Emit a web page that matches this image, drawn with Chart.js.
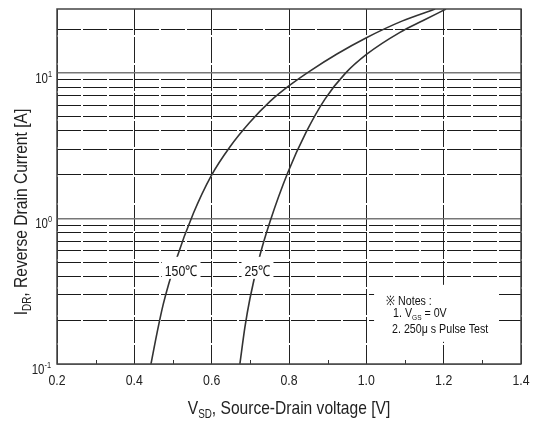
<!DOCTYPE html>
<html>
<head>
<meta charset="utf-8">
<script src="https://cdn.jsdelivr.net/npm/chart.js@4/dist/chart.umd.min.js"></script>
<style>
  html, body { margin: 0; padding: 0; background: #fff; }
  #wrap { width: 535px; height: 421px; }
</style>
</head>
<body>
<div id="wrap"><canvas id="myChart" width="535" height="421"></canvas></div>
<script>
// axis ticks / grid
const X_TICKS = [0.2, 0.4, 0.6, 0.8, 1.0, 1.2, 1.4];
const X_MINOR = [0.3, 0.5, 0.7, 0.9, 1.1, 1.3];
const Y_GRID = [0.1, 0.2, 0.3, 0.4, 0.5, 0.6, 0.7, 0.8, 0.9,
                1, 2, 3, 4, 5, 6, 7, 8, 9, 10, 20];
const Y_LABEL_VALUES = [0.1, 1, 10];
const Y_LABEL_EXP = ['-1', '0', '1'];

// curves (V_SD in V, I_DR in A)
const V_150 = [0.443, 0.459, 0.475, 0.508, 0.553, 0.598, 0.647, 0.697, 0.751, 0.803, 0.854, 0.924, 0.999, 1.092, 1.178];
const I_150 = [0.1,   0.165, 0.259, 0.519, 1.09,  1.95,  3.10,  4.53,  6.38,  8.27,  10.3,  13.5,  17.4,  22.7,  27.5];
const V_25 = [0.673, 0.686, 0.699, 0.725, 0.751, 0.797, 0.844, 0.893, 0.945, 1.002, 1.087, 1.147, 1.206];
const I_25 = [0.1,   0.179, 0.282, 0.561, 0.954, 2.07,  3.90,  6.61,  9.89,  13.5,  19.0,  22.9,  27.5];

const CURVE_LABELS = ['150℃', '25℃'];
const NOTES = ['※ Notes :', '1. V', 'GS', ' = 0V', '2. 250μ s Pulse Test'];

const FONT = '"Liberation Sans", Arial, sans-serif';
const SQUEEZE = 0.82;   // the original lettering is a narrow face

function toPoints(xs, ys) {
    return xs.map((v, i) => ({ x: v, y: ys[i] }));
}

// draw a run of [text, size, dy] pieces starting at x, horizontally squeezed
function drawRuns(ctx, x, y, runs) {
    let cx = x;
    runs.forEach(r => {
        ctx.font = r[1] + 'px ' + FONT;
        ctx.save();
        ctx.translate(cx, y + r[2]);
        ctx.scale(SQUEEZE, 1);
        ctx.fillText(r[0], 0, 0);
        ctx.restore();
        cx += ctx.measureText(r[0]).width * SQUEEZE;
    });
    return cx - x;
}
function runsWidth(ctx, runs) {
    let w = 0;
    runs.forEach(r => {
        ctx.font = r[1] + 'px ' + FONT;
        w += ctx.measureText(r[0]).width * SQUEEZE;
    });
    return w;
}

const decor = {
    id: 'decor',
    afterDatasetsDraw(chart) {
        const ctx = chart.ctx;
        const xs = chart.scales.x, ys = chart.scales.y;
        const a = chart.chartArea;
        ctx.save();

        // minor ticks on bottom axis
        ctx.strokeStyle = '#333';
        ctx.lineWidth = 1;
        X_MINOR.forEach(v => {
            const px = Math.round(xs.getPixelForValue(v)) + 0.5;
            ctx.beginPath();
            ctx.moveTo(px, a.bottom);
            ctx.lineTo(px, a.bottom - 4);
            ctx.stroke();
        });

        // curve labels on white boxes
        ctx.textBaseline = 'middle';
        ctx.textAlign = 'left';
        const labelPos = [[0.521, 0.43], [0.7185, 0.43]];
        CURVE_LABELS.forEach((t, i) => {
            const px = xs.getPixelForValue(labelPos[i][0]);
            const py = ys.getPixelForValue(labelPos[i][1]);
            const w = runsWidth(ctx, [[t, 15, 0]]);
            ctx.fillStyle = '#fff';
            ctx.fillRect(px - w / 2 - 3, py - 15, w + 6, 22);
            ctx.fillStyle = '#111';
            drawRuns(ctx, px - w / 2, py, [[t, 15, 0]]);
        });

        // notes box
        const nx = xs.getPixelForValue(1.02), ny = ys.getPixelForValue(0.35);
        ctx.fillStyle = '#fff';
        ctx.fillRect(nx, ny, 124, 57);
        ctx.fillStyle = '#111';
        ctx.textBaseline = 'alphabetic';
        drawRuns(ctx, nx + 12, ny + 20, [[NOTES[0], 13, 0]]);
        drawRuns(ctx, nx + 19, ny + 32, [[NOTES[1], 13, 0], [NOTES[2], 8, 3], [NOTES[3], 13, 0]]);
        drawRuns(ctx, nx + 18, ny + 48, [[NOTES[4], 13, 0]]);

        // frame
        ctx.strokeStyle = '#444';
        ctx.lineWidth = 1.5;
        ctx.strokeRect(a.left, a.top, a.right - a.left, a.bottom - a.top);
        ctx.restore();
    },
    afterDraw(chart) {
        const ctx = chart.ctx;
        const xs = chart.scales.x, ys = chart.scales.y;
        const a = chart.chartArea;
        ctx.save();
        ctx.fillStyle = '#222';
        ctx.textAlign = 'left';

        // x tick labels
        ctx.textBaseline = 'middle';
        X_TICKS.forEach(v => {
            const t = v.toFixed(1);
            const w = runsWidth(ctx, [[t, 15, 0]]);
            drawRuns(ctx, xs.getPixelForValue(v) - w / 2, a.bottom + 17, [[t, 15, 0]]);
        });

        // y tick labels 10^n
        ctx.textBaseline = 'alphabetic';
        Y_LABEL_VALUES.forEach((v, i) => {
            const py = ys.getPixelForValue(v);
            const exp = Y_LABEL_EXP[i];
            const w = runsWidth(ctx, [['10', 14, 0]]);
            const we = runsWidth(ctx, [[exp, 9, 0]]);
            const x0 = a.left - 9 - w - (exp.length > 1 ? we - 3 : 0);
            drawRuns(ctx, x0, py + 10, [['10', 14, 0], [exp, 9, -6]]);
        });

        // x title
        const xRuns = [['V', 19, 0], ['SD', 12, 4], [', Source-Drain voltage [V]', 19, 0]];
        const xw = runsWidth(ctx, xRuns);
        drawRuns(ctx, 289 - xw / 2, 414, xRuns);

        // y title
        const yRuns = [['I', 19, 0], ['DR', 12, 4], [', Reverse Drain Current [A]', 19, 0]];
        const yw = runsWidth(ctx, yRuns);
        ctx.translate(27, 212);
        ctx.rotate(-Math.PI / 2);
        drawRuns(ctx, -yw / 2, 0, yRuns);
        ctx.restore();
    }
};

const ctx = document.getElementById('myChart').getContext('2d');

const myChart = new Chart(ctx, {
    type: 'line',
    data: {
        datasets: [
            {
                label: '150℃',
                data: toPoints(V_150, I_150),
                borderColor: '#333',
                borderWidth: 1.6,
                pointRadius: 0,
                cubicInterpolationMode: 'monotone',
                fill: false
            },
            {
                label: '25℃',
                data: toPoints(V_25, I_25),
                borderColor: '#333',
                borderWidth: 1.6,
                pointRadius: 0,
                cubicInterpolationMode: 'monotone',
                fill: false
            }
        ]
    },
    options: {
        responsive: false,
        animation: false,
        layout: { padding: { left: 57, top: 9, right: 14, bottom: 57 } },
        plugins: {
            legend: { display: false },
            tooltip: { enabled: false }
        },
        scales: {
            x: {
                type: 'linear',
                min: 0.2,
                max: 1.4,
                afterBuildTicks: axis => { axis.ticks = X_TICKS.map(v => ({ value: v })); },
                ticks: { display: false },
                grid: { color: '#222', lineWidth: 1, drawTicks: false },
                border: { display: false, dash: [26, 2] }
            },
            y: {
                type: 'logarithmic',
                min: 0.1,
                max: 27.5,
                afterBuildTicks: axis => { axis.ticks = Y_GRID.map(v => ({ value: v })); },
                ticks: { display: false },
                grid: {
                    drawTicks: false,
                    color: c => ([0.1, 1, 10].includes(c.tick.value) ? '#777' : '#1a1a1a'),
                    lineWidth: c => ([1, 10].includes(c.tick.value) ? 1.5 : 1)
                },
                border: {
                    display: false,
                    dash: c => ([0.1, 1, 10].includes(c.tick && c.tick.value) ? [] : [24, 2])
                }
            }
        }
    },
    plugins: [decor]
});
</script>
</body>
</html>
